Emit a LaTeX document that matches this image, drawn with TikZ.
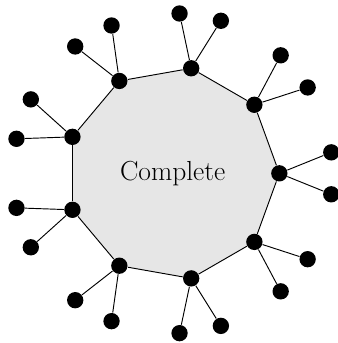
\documentclass[tikz,border=0pt]{standalone}
\usepackage{tikz}
\definecolor{CoreFill}{HTML}{E6E6E6}
\tikzset{
  dot/.style={circle,fill=black,inner sep=0pt,minimum size=0.49cm},
}
\begin{document}
\begin{tikzpicture}[x=1cm,y=1cm,line width=0.8pt]
  \useasboundingbox (-5.18,-5.09) rectangle (4.93,5.20);
  % the nine corners of the core
  \foreach \i in {1,...,9}
    \coordinate (c\i) at ({40*(\i-1)}:3.2);
  \fill[CoreFill] (c1)--(c2)--(c3)--(c4)--(c5)--(c6)--(c7)--(c8)--(c9)--cycle;
  \node[font=\fontsize{23.5}{28}\selectfont] (core) at (0,0) {Complete};
  % corners and their two pendants
  \foreach \i in {1,...,9} {
    \node[dot] (v\i) at (c\i) {};
    \node[dot] (a\i) at ([shift={({40*(\i-1)+22}:1.68)}]c\i) {};
    \node[dot] (b\i) at ([shift={({40*(\i-1)-22}:1.68)}]c\i) {};
    \draw (v\i) -- (a\i);
    \draw (v\i) -- (b\i);
  }
  \foreach \i/\j in {1/2,2/3,3/4,4/5,5/6,6/7,7/8,8/9,9/1}
    \draw (v\i) -- (v\j);
\end{tikzpicture}
\end{document}
